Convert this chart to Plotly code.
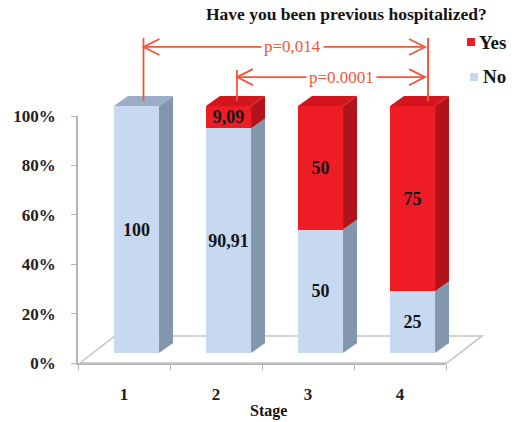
import plotly.graph_objects as go

# Share of patients previously hospitalized, by stage (%)
stages = ["1", "2", "3", "4"]
no_values = [100, 90.91, 50, 25]
yes_values = [0, 9.09, 50, 75]
y_ticks = [0, 20, 40, 60, 80, 100]

# significance brackets: (from stage index, to stage index, label)
brackets = [(0, 3, "p=0,014"), (1, 3, "p=0.0001")]

W, H = 514, 422
SERIF = "Times New Roman, Liberation Serif, serif"

BLUE = dict(front="#c6d9f0", side="#8296ae", top="#9aadc6")
RED = dict(front="#ee1c25", side="#b01319", top="#d3161d")
BRACKET = "#f2563c"
INK = "#151515"

# bar plane geometry (pixels): category width and percent scale
CAT_PX = 92.0
PCT_PX = 2.47
BAR_X0 = 90.5   # pixel of category edge -0.5 in the bar plane
BAR_Y0 = 353.0  # pixel of 0 % in the bar plane

# bar size and depth, in bar-plane data units
BAR_W = 0.49
DX = 14 / CAT_PX
DY = 10 / PCT_PX


def px(x):
    return x / W


def py(y):
    return 1 - y / H


def fmt(v):
    return "" if v == 0 else f"{v:g}".replace(".", ",")


fig = go.Figure()

# front-plane axes carry the tick labels; an empty trace keeps that subplot alive
fig.add_trace(go.Scatter(x=[], y=[], xaxis="x", yaxis="y", showlegend=False, hoverinfo="skip"))

bar_font = dict(family=SERIF, size=18, color=INK, weight="bold")
for vals, name, col in [(no_values, "No", BLUE), (yes_values, "Yes", RED)]:
    fig.add_trace(go.Bar(
        x=stages, y=vals, name=name, marker=dict(color=col["front"], line=dict(width=0)),
        width=BAR_W, text=[fmt(v) for v in vals], textposition="inside",
        insidetextanchor="middle", textfont=bar_font, textangle=0,
        xaxis="x2", yaxis="y2", showlegend=False, hoverinfo="skip",
    ))

shapes = []

# floor of the 3D plot area (front edge lies on the category axis)
fx0, fx1, fy0 = -0.614, 3.375, -DY
fdx, fdy = 0.38, 10.95
shapes.append(dict(
    type="path", xref="x2", yref="y2", layer="below",
    path=f"M {fx0},{fy0} L {fx1},{fy0} L {fx1 + fdx},{fy0 + fdy} L {fx0 + fdx},{fy0 + fdy} Z",
    fillcolor="rgba(0,0,0,0)", line=dict(color="#c4c4c4", width=1.5),
))

# side and top faces of every stacked bar
for i in range(len(stages)):
    segs = [(0, no_values[i], BLUE)]
    if yes_values[i] > 0:
        segs.append((no_values[i], no_values[i] + yes_values[i], RED))
    xr = i + BAR_W / 2
    xl = i - BAR_W / 2
    for y0, y1, col in segs:
        shapes.append(dict(
            type="path", xref="x2", yref="y2", layer="above",
            path=f"M {xr},{y0} L {xr + DX},{y0 + DY} L {xr + DX},{y1 + DY} L {xr},{y1} Z",
            fillcolor=col["side"], line=dict(width=0),
        ))
    top, col = segs[-1][1], segs[-1][2]
    shapes.append(dict(
        type="path", xref="x2", yref="y2", layer="above",
        path=f"M {xl},{top} L {xl + DX},{top + DY} L {xr + DX},{top + DY} L {xr},{top} Z",
        fillcolor=col["top"], line=dict(width=0),
    ))

annotations = []

# significance brackets
bracket_geo = [
    dict(x_left=0.076, x_right=3.17, y_line=123.9, y_top=127.5, x_text=1.70),
    dict(x_left=1.092, x_right=3.17, y_line=111.7, y_top=114.6, x_text=2.23),
]
for (a, b, label), g in zip(brackets, bracket_geo):
    line = dict(color=BRACKET, width=1.8)
    top_a = no_values[a] + yes_values[a] + DY / 2
    top_b = no_values[b] + yes_values[b] + DY / 2
    shapes.append(dict(type="line", xref="x2", yref="y2", x0=g["x_left"], x1=g["x_left"],
                       y0=top_a, y1=g["y_top"], line=line))
    shapes.append(dict(type="line", xref="x2", yref="y2", x0=g["x_right"], x1=g["x_right"],
                       y0=top_b, y1=127.5, line=line))
    x_tip_r = g["x_right"] - 0.033
    shapes.append(dict(type="line", xref="x2", yref="y2", x0=g["x_left"], x1=x_tip_r,
                       y0=g["y_line"], y1=g["y_line"], line=line))
    # open chevron arrowheads at both ends
    shapes.append(dict(type="path", xref="x2", yref="y2", xsizemode="pixel", ysizemode="pixel",
                       xanchor=g["x_left"], yanchor=g["y_line"],
                       path="M 16,8 L 0,0 L 16,-8", line=line))
    shapes.append(dict(type="path", xref="x2", yref="y2", xsizemode="pixel", ysizemode="pixel",
                       xanchor=x_tip_r, yanchor=g["y_line"],
                       path="M -16,8 L 0,0 L -16,-8", line=line))
    annotations.append(dict(
        x=g["x_text"], y=g["y_line"], xref="x2", yref="y2", text=label, showarrow=False,
        xanchor="center", yanchor="middle",
        font=dict(family=SERIF, size=17, color=BRACKET), bgcolor="white", borderpad=2,
    ))

# title
annotations.append(dict(
    x=px(346), y=py(14), xref="paper", yref="paper", text="Have you been previous hospitalized?",
    showarrow=False, xanchor="center", yanchor="middle",
    font=dict(family=SERIF, size=17.5, color=INK, weight="bold"),
))

# axis title
annotations.append(dict(
    x=px(268), y=py(411), xref="paper", yref="paper", text="Stage",
    showarrow=False, xanchor="center", yanchor="middle",
    font=dict(family=SERIF, size=16, color=INK, weight="bold"),
))

# legend
for name, col, cx, cy, tx in [("Yes", RED["front"], 471, 42, 477), ("No", BLUE["front"], 474, 77, 481)]:
    shapes.append(dict(type="rect", xref="paper", yref="paper",
                       x0=px(cx - 4), x1=px(cx + 4), y0=py(cy + 4), y1=py(cy - 4),
                       fillcolor=col, line=dict(width=0)))
    annotations.append(dict(
        x=px(tx), y=py(cy), xref="paper", yref="paper", text=name,
        xanchor="left", yanchor="middle", showarrow=False,
        font=dict(family=SERIF, size=19, color=INK, weight="bold"),
    ))

axis_font = dict(family=SERIF, size=17, color="#222222", weight="bold")
x2_range = [-0.7, 4.0]
y2_range = [-6, 135]
fig.update_layout(
    width=W, height=H, margin=dict(l=0, r=0, t=0, b=0),
    paper_bgcolor="white", plot_bgcolor="rgba(0,0,0,0)",
    barmode="stack", showlegend=False,
    xaxis=dict(domain=[px(78), px(446)], type="category", categoryarray=stages,
               range=[-0.5, 3.5], anchor="y", showgrid=False, zeroline=False,
               showline=True, linecolor="#b5b5b5", linewidth=1.5,
               ticks="outside", tickson="boundaries", ticklen=5, tickcolor="#b5b5b5",
               tickfont=axis_font, ticklabelstandoff=15, automargin=False),
    yaxis=dict(domain=[py(363), py(116)], range=[0, 100], anchor="x",
               tickmode="array", tickvals=y_ticks, ticktext=[f"{v}%" for v in y_ticks],
               showgrid=False, zeroline=False,
               showline=True, linecolor="#b5b5b5", linewidth=1.5,
               ticks="outside", ticklen=5, tickcolor="#b5b5b5",
               tickfont=axis_font, ticklabelstandoff=12, automargin=False),
    xaxis2=dict(domain=[px(BAR_X0 + CAT_PX * (x2_range[0] + 0.5)),
                        px(BAR_X0 + CAT_PX * (x2_range[1] + 0.5))],
                type="category", categoryarray=stages, range=x2_range,
                anchor="y2", visible=False, automargin=False),
    yaxis2=dict(domain=[py(BAR_Y0 - PCT_PX * y2_range[0]), py(BAR_Y0 - PCT_PX * y2_range[1])],
                range=y2_range, anchor="x2", visible=False, automargin=False),
    uniformtext=dict(minsize=18, mode="show"),
    shapes=shapes, annotations=annotations,
)

fig.write_html("out.html")
